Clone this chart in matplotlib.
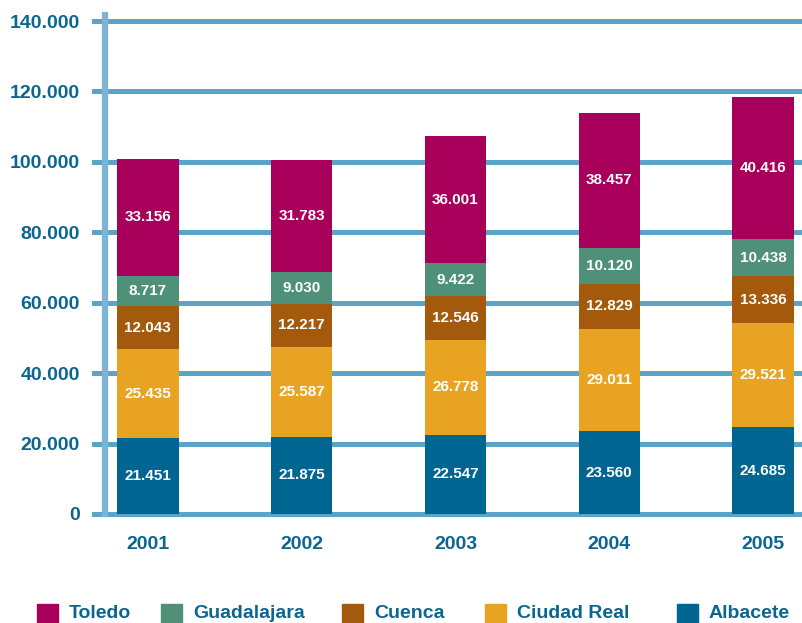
import numpy as np
import matplotlib
matplotlib.use("Agg")
import matplotlib.pyplot as plt
from matplotlib.patches import Rectangle

plt.rcParams['font.family'] = ['Liberation Sans', 'DejaVu Sans']
plt.rcParams['font.weight'] = 'bold'

years = ['2001', '2002', '2003', '2004', '2005']
albacete = [21451, 21875, 22547, 23560, 24685]
ciudad_real = [25435, 25587, 26778, 29011, 29521]
cuenca = [12043, 12217, 12546, 12829, 13336]
guadalajara = [8717, 9030, 9422, 10120, 10438]
toledo = [33156, 31783, 36001, 38457, 40416]

series = [('Albacete', albacete, '#006590'),
          ('Ciudad Real', ciudad_real, '#e9a323'),
          ('Cuenca', cuenca, '#a35a0c'),
          ('Guadalajara', guadalajara, '#4e9078'),
          ('Toledo', toledo, '#a8005a')]

txt = '#0a6690'
grid_c = '#5ba4c7'
W, H = 802, 623

fig = plt.figure(figsize=(W/100, H/100), dpi=100)
ax = fig.add_axes([94/W, 109/H, 708/W, 493/H])

x = np.arange(len(years))
bottom = np.zeros(len(years))
for name, vals, col in series:
    vals = np.array(vals)
    ax.bar(x, vals, 0.4, bottom=bottom, color=col, zorder=3, label=name)
    for xi, b, v in zip(x, bottom, vals):
        ax.text(xi, b + v/2, f"{v:,}".replace(',', '.'), ha='center', va='center',
                color='white', fontsize=11, fontweight='bold', zorder=4)
    bottom += vals

ax.set_xlim(-0.35, 4.253)
ax.set_ylim(0, 140000)
ax.set_yticks(np.arange(0, 140001, 20000))
ax.set_yticklabels([f"{v:,}".replace(',', '.') for v in range(0, 140001, 20000)])
ax.set_xticks(x)
ax.set_xticklabels(years)
ax.tick_params(length=0, labelsize=14, labelcolor=txt)
ax.tick_params(axis='y', pad=10)
ax.tick_params(axis='x', pad=16)

ax.grid(axis='y', color=grid_c, lw=3.6, zorder=1)
for gl in ax.get_ygridlines():
    gl.set_clip_on(False)
ax.axvline(-0.28, ymin=0, ymax=1.012, color='#7db4d4', lw=4.5, zorder=2, clip_on=False)
for s in ax.spines.values():
    s.set_visible(False)

# legend drawn by hand to match the uneven spacing
leg_x = [37, 161, 342, 485, 677]
for (name, vals, col), lx in zip(series[::-1], leg_x):
    fig.add_artist(Rectangle((lx/W, 0/H), 21/W, 19/H, color=col, transform=fig.transFigure))
    fig.text((lx + 32)/W, 10/H, name, color=txt, fontsize=14, fontweight='bold',
             ha='left', va='center')

fig.savefig('out.png', dpi=100)
